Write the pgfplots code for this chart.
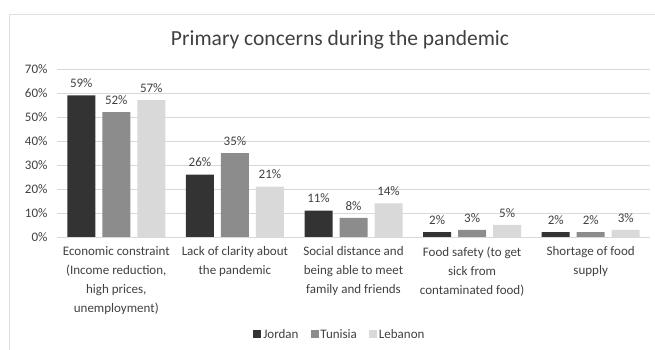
\documentclass[border=0pt]{standalone}
\usepackage{fontspec}
\setmainfont{Carlito}
\usepackage{pgfplots}
\pgfplotsset{compat=1.18}
\definecolor{jordan}{HTML}{333333}
\definecolor{tunisia}{HTML}{8C8C8C}
\definecolor{lebanon}{HTML}{D9D9D9}
\definecolor{txt}{HTML}{404040}
\definecolor{grid}{HTML}{D9D9D9}
\begin{document}
\begin{tikzpicture}[x=1pt,y=1pt]
\useasboundingbox (0,0) rectangle (655,350);
% chart frame
\draw[color=grid!80, line width=0.8pt] (9,-10) -- (9,336) -- (670,336);
% title
\node[text=txt, font=\fontsize{21.5}{24}\selectfont] at (340,310) {Primary concerns during the pandemic};
\begin{axis}[
  at={(57pt,113pt)}, anchor=south west,
  scale only axis, width=593pt, height=168pt,
  ybar=7pt, bar width=28pt,
  xmin=-0.5, xmax=4.5, ymin=0, ymax=70,
  xtick={0,1,2,3,4},
  xticklabels={{Economic constraint\\(Income reduction,\\high prices,\\unemployment)},
               {Lack of clarity about\\the pandemic},
               {Social distance and\\being able to meet\\family and friends},
               {Food safety (to get\\sick from\\contaminated food)},
               {Shortage of food\\supply}},
  xticklabel style={align=center, text=txt, font=\fontsize{13}{19}\selectfont, anchor=north, yshift=-6pt},
  ytick={0,10,...,70},
  yticklabel={\pgfmathprintnumber{\tick}\%},
  /pgf/number format/assume math mode=true,
  yticklabel style={text=txt, font=\fontsize{13}{15}\selectfont, xshift=-6pt},
  ymajorgrids, grid style={color=grid, line width=0.8pt},
  axis x line*=bottom, axis y line*=left,
  x axis line style={draw=grid, line width=0.8pt, -},
  y axis line style={draw=none},
  major tick length=0pt,
  tick style={draw=none},
  nodes near coords={\pgfmathprintnumber{\pgfplotspointmeta}\%},
  nodes near coords style={text=txt, font=\fontsize{13}{15}\selectfont},
  every node near coord/.append style={yshift=4pt},
  legend style={at={(0.477,-0.583)}, anchor=center, draw=none, legend columns=3,
    font=\fontsize{13}{15}\selectfont, text=txt,
    /tikz/every even column/.append style={column sep=10pt}},
  legend image code/.code={\fill[#1] (0pt,-3.5pt) rectangle (8pt,4.5pt);},
  clip=false,
]
\addplot[fill=jordan, draw=none] coordinates {(0,59) (1,26) (2,11) (3,2) (4,2)};
\addplot[fill=tunisia, draw=none] coordinates {(0,52) (1,35) (2,8) (3,3) (4,2)};
\addplot[fill=lebanon, draw=none] coordinates {(0,57) (1,21) (2,14) (3,5) (4,3)};
\legend{Jordan, Tunisia, Lebanon}
\end{axis}
\end{tikzpicture}
\end{document}
